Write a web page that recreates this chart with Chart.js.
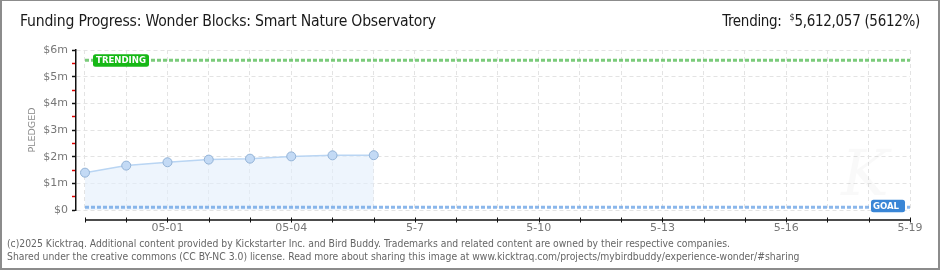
<!DOCTYPE html>
<html>
<head>
<meta charset="utf-8">
<script src="https://cdn.jsdelivr.net/npm/chart.js@4.4.1/dist/chart.umd.min.js"></script>
<style>
  html, body { margin:0; padding:0; background:#fff; }
  #wrap { position:relative; width:940px; height:270px; overflow:hidden; }
  #frame { position:absolute; left:0; top:0; width:940px; height:270px; box-sizing:border-box;
           border-style:solid; border-color:#8c8c8c; border-width:1px 2px 2px 2px; pointer-events:none; }
  canvas { position:absolute; left:0; top:0; }
  .title { position:absolute; left:20px; top:12px; font-family:"DejaVu Sans Condensed","DejaVu Sans",sans-serif;
           font-size:15.6px; color:#1a1a1a; white-space:nowrap; letter-spacing:-0.2px; }
  .trend { position:absolute; right:20px; top:12px; font-family:"DejaVu Sans Condensed","DejaVu Sans",sans-serif;
           font-size:15px; color:#1a1a1a; white-space:nowrap; letter-spacing:-0.3px; }
  .trend sup { font-size:9px; vertical-align:6px; }
  .foot { position:absolute; left:7px; font-family:"Liberation Sans Narrow","DejaVu Sans Condensed",sans-serif;
          font-size:10.3px; color:#666; white-space:nowrap; }
</style>
</head>
<body>
<div id="wrap">
  <canvas id="c" width="940" height="270"></canvas>
  <div class="title">Funding Progress: Wonder Blocks: Smart Nature Observatory</div>
  <div class="trend">Trending:&nbsp; <sup>$</sup>5,612,057 (5612%)</div>
  <div class="foot" style="top:237px">(c)2025 Kicktraq. Additional content provided by Kickstarter Inc. and Bird Buddy. Trademarks and related content are owned by their respective companies.</div>
  <div class="foot" style="top:250px">Shared under the creative commons (CC BY-NC 3.0) license. Read more about sharing this image at www.kicktraq.com/projects/mybirdbuddy/experience-wonder/#sharing</div>
  <div id="frame"></div>
</div>
<script>
// ---- data ----
const dayLabels = ['04-29','04-30','05-01','05-02','05-03','05-04','05-05','05-06'];
const pledged   = [1400000, 1665000, 1790000, 1890000, 1925000, 2010000, 2050000, 2055000];
const goal      = 100000;
const trending  = 5612057;
const totalDays = 20;                       // 04-29 .. 05-19
const xTickDays   = [2, 5, 8, 11, 14, 17, 20];
const xTickLabels = ['05-01','05-04','5-7','5-10','5-13','5-16','5-19'];
const yMax = 6000000;

const pledgedPts = pledged.map((v, i) => ({x: i, y: v}));
const goalPts = [{x: 0, y: goal}, {x: totalDays, y: goal}];
const trendPts = [{x: 0, y: trending}, {x: totalDays, y: trending}];

const tickFont = {family: '"DejaVu Sans", sans-serif', size: 11};

function roundRect(ctx, x, y, w, h, r) {
  ctx.beginPath();
  ctx.moveTo(x + r, y);
  ctx.lineTo(x + w - r, y); ctx.quadraticCurveTo(x + w, y, x + w, y + r);
  ctx.lineTo(x + w, y + h - r); ctx.quadraticCurveTo(x + w, y + h, x + w - r, y + h);
  ctx.lineTo(x + r, y + h); ctx.quadraticCurveTo(x, y + h, x, y + h - r);
  ctx.lineTo(x, y + r); ctx.quadraticCurveTo(x, y, x + r, y);
  ctx.closePath();
}

const overlay = {
  id: 'overlay',
  afterDatasetsDraw(chart) {
    const {ctx, scales: {x, y}, chartArea} = chart;
    ctx.save();
    // faint watermark
    ctx.fillStyle = 'rgba(0,0,0,0.025)';
    ctx.font = 'italic 64px "DejaVu Serif", serif';
    ctx.textAlign = 'center'; ctx.textBaseline = 'alphabetic';
    ctx.fillText('K', 865, 195);
    // x axis line (offset below plot)
    const ay = chartArea.bottom + 10;
    ctx.strokeStyle = '#111';
    ctx.lineWidth = 1.5;
    ctx.beginPath();
    ctx.moveTo(x.getPixelForValue(0), ay);
    ctx.lineTo(x.getPixelForValue(totalDays), ay);
    ctx.stroke();
    ctx.lineWidth = 1;
    for (let d = 0; d <= totalDays; d++) {
      const px = Math.round(x.getPixelForValue(d)) + 0.5;
      ctx.beginPath(); ctx.moveTo(px, ay - 2.5); ctx.lineTo(px, ay + 2.5); ctx.stroke();
    }
    // trending label
    const ty = y.getPixelForValue(trending);
    const tx = x.getPixelForValue(0) + 8;
    ctx.fillStyle = '#16b816';
    roundRect(ctx, tx, ty - 6, 56, 12.5, 2.5); ctx.fill();
    ctx.fillStyle = '#fff';
    ctx.font = 'bold 9.5px "DejaVu Sans Condensed", "DejaVu Sans", sans-serif';
    ctx.textBaseline = 'middle'; ctx.textAlign = 'center';
    ctx.fillText('TRENDING', tx + 28, ty + 0.5);
    // goal label
    const gy = y.getPixelForValue(goal);
    const gx = x.getPixelForValue(totalDays) - 39;
    ctx.fillStyle = '#3a86d6';
    roundRect(ctx, gx, gy - 7.5, 34, 12.5, 2.5); ctx.fill();
    ctx.fillStyle = '#fff';
    ctx.fillText('GOAL', gx + 15, gy - 1);
    ctx.restore();
  }
};

new Chart(document.getElementById('c'), {
  type: 'line',
  data: {
    datasets: [
      {
        data: trendPts, borderColor: 'rgba(90,190,90,0.8)', borderWidth: 3,
        borderDash: [4, 2], pointRadius: 0, fill: false, order: 1
      },
      {
        data: goalPts, borderColor: 'rgba(110,165,230,0.8)', borderWidth: 3,
        borderDash: [4, 2], pointRadius: 0, fill: false, order: 1
      },
      {
        data: pledgedPts, borderColor: '#b9d5f3', borderWidth: 1.5,
        backgroundColor: 'rgba(226,238,252,0.6)', fill: 'origin', tension: 0,
        pointRadius: 4.5, pointBackgroundColor: '#c3daf5', pointBorderColor: '#92b2d6',
        pointBorderWidth: 1, order: 2
      }
    ]
  },
  options: {
    responsive: false, animation: false,
    layout: {padding: {left: 25, top: 50, right: 30, bottom: 30}},
    plugins: {legend: {display: false}, tooltip: {enabled: false}},
    scales: {
      x: {
        type: 'linear', min: -0.218, max: totalDays,
        afterBuildTicks(s) { s.ticks = Array.from({length: totalDays + 1}, (_, d) => ({value: d})); },
        afterFit(s) { s.height = 30; },
        grid: {color: '#e3e3e3', lineWidth: 1, drawTicks: false},
        border: {display: false, dash: [4, 3]},
        ticks: {
          padding: 12, font: tickFont, color: '#777', maxRotation: 0, autoSkip: false,
          callback(v) { const k = xTickDays.indexOf(v); return k >= 0 ? xTickLabels[k] : ''; }
        }
      },
      y: {
        min: 0, max: yMax,
        afterBuildTicks(s) { const t = []; for (let v = 0; v <= yMax; v += 500000) t.push({value: v}); s.ticks = t; },
        afterFit(s) { s.width = 51; },
        grid: {
          color: (c) => (c.tick && c.tick.value % 1000000 === 0) ? '#e3e3e3' : 'rgba(0,0,0,0)',
          tickColor: (c) => (c.tick && c.tick.value % 1000000 === 0) ? '#111' : '#e00000',
          tickLength: 4, lineWidth: 1, tickWidth: 1.5
        },
        border: {display: true, color: '#111', width: 1.5, dash: [4, 3]},
        ticks: {
          padding: 4, font: tickFont, color: '#777', autoSkip: false,
          callback(v) { return v % 1000000 === 0 ? (v === 0 ? '$0' : '$' + (v / 1000000) + 'm') : ''; }
        },
        title: {display: true, text: 'PLEDGED', color: '#888', font: {family: '"DejaVu Sans", sans-serif', size: 9.5}, padding: {top: 2, bottom: 0}}
      }
    }
  },
  plugins: [overlay]
});
</script>
</body>
</html>
